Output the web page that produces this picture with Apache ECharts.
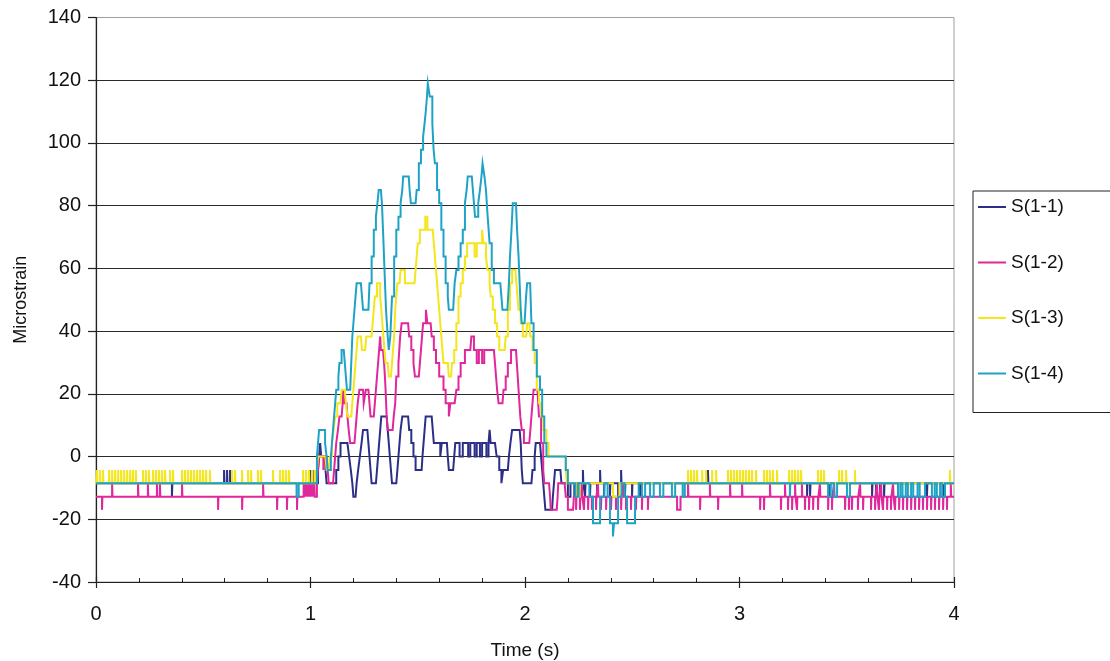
<!DOCTYPE html>
<html>
<head>
<meta charset="utf-8">
<script src="https://cdn.jsdelivr.net/npm/echarts@6/dist/echarts.min.js"></script>
<style>
  html, body { margin: 0; padding: 0; background: #ffffff; }
  #chart { width: 1110px; height: 661px; }
</style>
</head>
<body>
<div id="chart"></div>
<script>
// Axis ticks
const xTicks = [0, 1, 2, 3, 4];
const yTicks = [-40, -20, 0, 20, 40, 60, 80, 100, 120, 140];
const seriesNames = ['S(1-1)', 'S(1-2)', 'S(1-3)', 'S(1-4)'];

// Each gauge: resting level, short excursions before the pass,
// the trace during the pass, and short excursions after it.
// Excursion entries are [t, value] (one sample) or [t0, t1, value].

// S(1-1)
const s11Base = -8.5;
const s11Pre = [[0.354,-12.8],[0.597,-4.3],[0.611,-4.3],[0.625,-4.3],[1.000,-4.3],[1.010,-4.3]];
const s11Event = [[1.035,-8.5],[1.035,-4.3],[1.040,-4.3],[1.040,0],[1.045,0],[1.045,4.3],[1.050,4.3],[1.050,0],[1.070,0],[1.070,-4.3],[1.075,-4.3],[1.075,-8.5],[1.105,-8.5],[1.120,-4.3],[1.130,0],[1.140,4.3],[1.172,4.3],[1.180,0],[1.188,-4.3],[1.195,-8.5],[1.200,-12.8],[1.210,-12.8],[1.215,-8.5],[1.222,-4.3],[1.230,0],[1.238,4.3],[1.245,8.5],[1.265,8.5],[1.270,4.3],[1.275,0],[1.280,-4.3],[1.285,-8.5],[1.305,-8.5],[1.310,-4.3],[1.315,0],[1.320,4.3],[1.325,8.5],[1.330,12.8],[1.355,12.8],[1.360,8.5],[1.365,4.3],[1.370,0],[1.375,-4.3],[1.380,-8.5],[1.400,-8.5],[1.405,-4.3],[1.410,0],[1.415,4.3],[1.420,8.5],[1.428,12.8],[1.455,12.8],[1.460,8.5],[1.470,4.3],[1.480,0],[1.490,-4.3],[1.518,-4.3],[1.522,0],[1.527,4.3],[1.532,8.5],[1.537,12.8],[1.565,12.8],[1.570,8.5],[1.575,4.3],[1.605,4.3],[1.605,0],[1.612,0],[1.612,4.3],[1.636,4.3],[1.640,0],[1.645,-4.3],[1.665,-4.3],[1.670,0],[1.675,4.3],[1.695,4.3],[1.695,0],[1.710,0],[1.710,4.3],[1.735,4.3],[1.735,0],[1.745,0],[1.745,4.3],[1.765,4.3],[1.765,0],[1.775,0],[1.775,4.3],[1.790,4.3],[1.790,0],[1.800,0],[1.800,4.3],[1.820,4.3],[1.820,0],[1.830,0],[1.830,4.3],[1.835,4.3],[1.835,8.5],[1.840,8.5],[1.840,4.3],[1.860,4.3],[1.868,0],[1.880,-4.3],[1.890,-4.3],[1.890,-8.5],[1.898,-8.5],[1.898,-4.3],[1.920,-4.3],[1.925,0],[1.932,4.3],[1.940,8.5],[1.975,8.5],[1.980,4.3],[1.985,-4.3],[1.990,-8.5],[2.030,-8.5],[2.035,-4.3],[2.045,0],[2.050,4.3],[2.070,4.3],[2.075,0],[2.080,-4.3],[2.085,-8.5],[2.090,-12.8],[2.095,-17],[2.126,-17],[2.130,-12.8],[2.135,-8.5],[2.140,-4.3],[2.165,-4.3],[2.170,-8.5]];
const s11Post = [[2.200,2.212,-12.8],[2.230,-12.8],[2.247,-12.8],[2.270,-4.3],[2.280,-12.8],[2.303,-12.8],[2.336,-12.8],[2.350,-4.3],[2.368,-12.8],[2.396,-12.8],[2.434,-12.8],[2.448,-4.3],[2.466,-12.8],[2.499,-12.8],[2.536,-12.8],[2.853,-4.3],[3.315,-12.8],[3.329,-12.8],[3.422,-12.8],[3.618,-12.8],[3.636,-12.8],[3.655,-12.8],[3.674,-12.8],[3.874,-12.8],[3.949,-12.8]];

// S(1-2)
const s12Base = -12.8;
const s12Pre = [[0.028,-17],[0.075,-8.5],[0.196,-8.5],[0.242,-8.5],[0.284,-8.5],[0.298,-8.5],[0.401,-8.5],[0.569,-17],[0.681,-17],[0.779,-8.5],[0.844,-17],[0.890,-17],[0.937,-17],[0.968,-8.5],[0.978,-8.5],[0.988,-8.5],[0.998,-8.5],[1.008,-8.5],[1.018,-8.5]];
const s12Event = [[1.030,-12.8],[1.030,-8.5],[1.035,-8.5],[1.035,-4.3],[1.040,-4.3],[1.040,0],[1.060,0],[1.060,-4.3],[1.065,-4.3],[1.065,0],[1.075,0],[1.080,-4.3],[1.085,-8.5],[1.105,-8.5],[1.110,-4.3],[1.115,0],[1.120,4.3],[1.128,8.5],[1.135,12.8],[1.145,12.8],[1.150,17],[1.152,21.3],[1.156,21.3],[1.158,17],[1.168,17],[1.172,12.8],[1.178,8.5],[1.185,4.3],[1.205,4.3],[1.210,8.5],[1.215,12.8],[1.220,17],[1.228,21.3],[1.245,21.3],[1.248,17],[1.255,17],[1.258,21.3],[1.270,21.3],[1.275,17],[1.280,12.8],[1.295,12.8],[1.300,17],[1.305,21.3],[1.310,25.5],[1.315,29.8],[1.320,34],[1.325,34],[1.325,38.3],[1.328,38.3],[1.328,34],[1.338,34],[1.343,29.8],[1.347,25.5],[1.350,21.3],[1.355,12.8],[1.360,8.5],[1.383,8.5],[1.388,12.8],[1.395,17],[1.400,25.5],[1.410,29.8],[1.418,38.3],[1.425,42.5],[1.455,42.5],[1.460,38.3],[1.470,34],[1.480,29.8],[1.487,25.5],[1.505,25.5],[1.510,29.8],[1.515,34],[1.520,38.3],[1.525,42.5],[1.538,42.5],[1.538,46.8],[1.545,46.8],[1.545,42.5],[1.560,42.5],[1.565,38.3],[1.575,34],[1.585,29.8],[1.600,25.5],[1.620,21.3],[1.630,17],[1.645,17],[1.645,12.8],[1.652,12.8],[1.652,17],[1.672,17],[1.680,21.3],[1.690,25.5],[1.700,29.8],[1.710,29.8],[1.720,34],[1.745,34],[1.750,38.3],[1.757,38.3],[1.762,34],[1.775,34],[1.775,29.8],[1.785,29.8],[1.785,34],[1.800,34],[1.800,29.8],[1.810,29.8],[1.810,34],[1.855,34],[1.860,29.8],[1.865,25.5],[1.870,21.3],[1.877,17],[1.895,17],[1.900,21.3],[1.910,25.5],[1.920,29.8],[1.935,34],[1.958,34],[1.962,29.8],[1.970,21.3],[1.978,12.8],[1.985,8.5],[1.995,4.3],[2.020,4.3],[2.025,8.5],[2.030,12.8],[2.035,17],[2.040,21.3],[2.058,21.3],[2.065,12.8],[2.075,4.3],[2.085,-4.3],[2.090,-8.5],[2.112,-8.5],[2.117,-12.8],[2.120,-17],[2.148,-17],[2.152,-12.8],[2.155,-8.5],[2.185,-8.5],[2.190,-12.8],[2.200,-17],[2.224,-17],[2.228,-12.8]];
const s12Post = [[2.238,-17],[2.256,-17],[2.265,-8.5],[2.275,-17],[2.294,-17],[2.312,-17],[2.331,-17],[2.340,-8.5],[2.354,-17],[2.378,-17],[2.401,-17],[2.424,-17],[2.448,-17],[2.458,-8.5],[2.471,-17],[2.494,-17],[2.517,-17],[2.545,-17],[2.573,-17],[2.709,2.725,-17],[2.760,-8.5],[2.816,-17],[2.862,-8.5],[2.900,-17],[2.956,-8.5],[3.012,-8.5],[3.096,-17],[3.114,-17],[3.142,-8.5],[3.193,-17],[3.212,-8.5],[3.226,-17],[3.245,-17],[3.259,-8.5],[3.268,-17],[3.291,-8.5],[3.305,-17],[3.324,-17],[3.343,-17],[3.366,-17],[3.375,-8.5],[3.413,-17],[3.431,-17],[3.441,-8.5],[3.492,-17],[3.510,-17],[3.524,-17],[3.552,-17],[3.562,-8.5],[3.576,-17],[3.613,-17],[3.632,-17],[3.641,-8.5],[3.650,-17],[3.660,-8.5],[3.669,-17],[3.688,-17],[3.706,-17],[3.716,-8.5],[3.725,-17],[3.744,-17],[3.762,-17],[3.781,-17],[3.800,-17],[3.818,-17],[3.837,-17],[3.855,-17],[3.874,-17],[3.893,-17],[3.911,-17],[3.930,-17],[3.949,-17],[3.967,-17],[3.985,-8.5]];

// S(1-3)
const s13Base = -8.5;
const s13Pre = [[0.005,-4.3],[0.019,-4.3],[0.033,-4.3],[0.061,-4.3],[0.075,-4.3],[0.089,-4.3],[0.103,-4.3],[0.117,-4.3],[0.131,-4.3],[0.145,-4.3],[0.159,-4.3],[0.172,-4.3],[0.186,-4.3],[0.219,-4.3],[0.233,-4.3],[0.247,-4.3],[0.266,-4.3],[0.280,-4.3],[0.294,-4.3],[0.308,-4.3],[0.322,-4.3],[0.345,-4.3],[0.359,-4.3],[0.401,-4.3],[0.415,-4.3],[0.429,-4.3],[0.443,-4.3],[0.457,-4.3],[0.471,-4.3],[0.485,-4.3],[0.499,-4.3],[0.513,-4.3],[0.531,-4.3],[0.634,-4.3],[0.648,-4.3],[0.681,-4.3],[0.709,-4.3],[0.723,-4.3],[0.755,-4.3],[0.769,-4.3],[0.825,-4.3],[0.858,-4.3],[0.872,-4.3],[0.886,-4.3],[0.900,-4.3],[0.965,-4.3],[0.979,-4.3],[0.993,-4.3],[1.007,-4.3],[1.020,-4.3]];
const s13Event = [[1.030,-8.5],[1.030,-4.3],[1.035,-4.3],[1.035,0],[1.070,0],[1.075,-4.3],[1.085,-4.3],[1.090,0],[1.100,4.3],[1.108,8.5],[1.115,12.8],[1.125,17],[1.140,17],[1.145,21.3],[1.160,21.3],[1.165,17],[1.172,12.8],[1.190,12.8],[1.195,17],[1.200,21.3],[1.205,25.5],[1.210,29.8],[1.215,34],[1.220,38.3],[1.235,38.3],[1.240,34],[1.255,34],[1.260,38.3],[1.285,38.3],[1.290,42.5],[1.295,46.8],[1.300,51],[1.310,55.3],[1.318,55.3],[1.325,51],[1.330,46.8],[1.335,42.5],[1.340,38.3],[1.345,34],[1.350,29.8],[1.360,29.8],[1.365,25.5],[1.375,25.5],[1.380,29.8],[1.385,34],[1.390,38.3],[1.395,46.8],[1.400,51],[1.405,55.3],[1.415,55.3],[1.420,59.5],[1.440,59.5],[1.440,55.3],[1.485,55.3],[1.490,59.5],[1.495,63.8],[1.500,68],[1.510,72.3],[1.535,72.3],[1.535,76.5],[1.545,76.5],[1.545,72.3],[1.570,72.3],[1.575,68],[1.580,63.8],[1.585,59.5],[1.590,55.3],[1.595,51],[1.600,46.8],[1.605,42.5],[1.610,38.3],[1.615,34],[1.620,29.8],[1.640,29.8],[1.645,25.5],[1.655,25.5],[1.660,29.8],[1.670,34],[1.680,42.5],[1.690,51],[1.700,55.3],[1.710,59.5],[1.720,63.8],[1.730,68],[1.765,68],[1.765,63.8],[1.775,63.8],[1.775,68],[1.800,68],[1.800,72.3],[1.806,72.3],[1.806,68],[1.812,68],[1.818,63.8],[1.825,59.5],[1.835,55.3],[1.840,51],[1.850,46.8],[1.860,42.5],[1.870,38.3],[1.880,34],[1.905,34],[1.910,38.3],[1.920,46.8],[1.930,55.3],[1.940,59.5],[1.955,59.5],[1.960,55.3],[1.965,51],[1.970,46.8],[1.980,42.5],[1.990,38.3],[2.005,38.3],[2.010,42.5],[2.020,42.5],[2.025,38.3],[2.035,34],[2.045,29.8],[2.055,21.3],[2.065,17],[2.075,12.8],[2.085,8.5],[2.100,4.3],[2.110,0],[2.190,0],[2.190,-4.3],[2.195,-4.3],[2.195,-8.5]];
const s13Post = [[2.240,2.255,-12.8],[2.410,2.440,-12.8],[2.760,-4.3],[2.774,-4.3],[2.788,-4.3],[2.802,-4.3],[2.826,-4.3],[2.844,-4.3],[2.872,-4.3],[2.891,-4.3],[2.946,-4.3],[2.960,-4.3],[2.974,-4.3],[2.988,-4.3],[3.002,-4.3],[3.016,-4.3],[3.030,-4.3],[3.044,-4.3],[3.058,-4.3],[3.077,-4.3],[3.114,-4.3],[3.128,-4.3],[3.142,-4.3],[3.156,-4.3],[3.175,-4.3],[3.231,-4.3],[3.245,-4.3],[3.259,-4.3],[3.273,-4.3],[3.287,-4.3],[3.366,-4.3],[3.380,-4.3],[3.394,-4.3],[3.464,-4.3],[3.478,-4.3],[3.497,-4.3],[3.538,-4.3],[3.981,-4.3]];

// S(1-4)
const s14Base = -8.5;
const s14Pre = [[0.935,0.945,-12.8]];
const s14Event = [[1.030,-8.5],[1.030,0],[1.035,0],[1.035,4.3],[1.040,4.3],[1.040,8.5],[1.068,8.5],[1.068,4.3],[1.075,4.3],[1.075,0],[1.080,0],[1.080,-4.3],[1.095,-4.3],[1.095,0],[1.100,0],[1.100,4.3],[1.105,8.5],[1.110,12.8],[1.115,17],[1.120,21.3],[1.125,21.3],[1.130,25.5],[1.135,29.8],[1.140,29.8],[1.145,34],[1.155,34],[1.160,29.8],[1.165,25.5],[1.170,21.3],[1.185,21.3],[1.190,29.8],[1.195,38.3],[1.200,42.5],[1.205,46.8],[1.210,51],[1.215,55.3],[1.235,55.3],[1.240,51],[1.245,46.8],[1.270,46.8],[1.275,55.3],[1.285,63.8],[1.295,72.3],[1.305,76.5],[1.312,80.8],[1.318,85],[1.328,85],[1.333,80.8],[1.338,72.3],[1.345,59.5],[1.352,46.8],[1.360,38.3],[1.365,34],[1.372,38.3],[1.380,51],[1.390,63.8],[1.400,72.3],[1.410,76.5],[1.420,80.8],[1.428,85],[1.432,89.3],[1.458,89.3],[1.462,85],[1.468,80.8],[1.490,80.8],[1.495,85],[1.505,93.5],[1.515,97.8],[1.525,102],[1.532,106.3],[1.538,110.5],[1.543,114.8],[1.547,119],[1.552,119],[1.556,114.8],[1.562,114.8],[1.568,106.3],[1.574,97.8],[1.580,93.5],[1.590,85],[1.600,80.8],[1.610,72.3],[1.620,63.8],[1.630,55.3],[1.640,51],[1.645,46.8],[1.665,46.8],[1.672,55.3],[1.680,59.5],[1.690,63.8],[1.700,68],[1.710,72.3],[1.720,80.8],[1.728,85],[1.733,89.3],[1.752,89.3],[1.757,85],[1.762,80.8],[1.767,76.5],[1.776,76.5],[1.782,80.8],[1.790,85],[1.797,89.3],[1.802,93.5],[1.807,93.5],[1.811,89.3],[1.818,85],[1.826,76.5],[1.835,68],[1.845,59.5],[1.855,55.3],[1.885,55.3],[1.890,51],[1.895,46.8],[1.918,46.8],[1.925,55.3],[1.930,63.8],[1.937,72.3],[1.943,80.8],[1.958,80.8],[1.963,72.3],[1.970,63.8],[1.975,55.3],[1.980,46.8],[1.985,42.5],[1.998,42.5],[2.005,51],[2.010,55.3],[2.024,55.3],[2.030,42.5],[2.040,34],[2.055,25.5],[2.070,21.3],[2.080,12.8],[2.090,4.3],[2.100,0],[2.190,0],[2.190,-4.3],[2.200,-4.3],[2.200,-8.5],[2.235,-8.5],[2.235,-12.8],[2.250,-12.8],[2.250,-8.5],[2.300,-8.5],[2.300,-12.8],[2.317,-12.8],[2.317,-21.3],[2.350,-21.3],[2.350,-12.8],[2.370,-12.8],[2.370,-8.5],[2.385,-8.5],[2.385,-12.8],[2.396,-12.8],[2.396,-21.3],[2.410,-21.3],[2.410,-25.5],[2.415,-25.5],[2.415,-21.3],[2.434,-21.3],[2.434,-12.8],[2.450,-12.8],[2.450,-8.5],[2.465,-8.5],[2.465,-12.8],[2.476,-12.8],[2.476,-21.3],[2.513,-21.3],[2.513,-12.8],[2.530,-12.8],[2.530,-8.5]];
const s14Post = [[2.545,2.560,-12.8],[2.583,2.600,-12.8],[2.629,2.645,-12.8],[2.685,2.700,-12.8],[2.735,2.745,-12.8],[3.235,-12.8],[3.413,3.425,-12.8],[3.440,3.455,-12.8],[3.501,3.515,-12.8],[3.739,3.750,-12.8],[3.760,3.775,-12.8],[3.785,3.800,-12.8],[3.810,3.830,-12.8],[3.840,3.865,-12.8],[3.897,3.910,-12.8],[3.920,3.935,-12.8],[3.945,3.958,-12.8]];

const colors = ['#2c2f86', '#e0279b', '#f3e61c', '#1ea3c6'];
const SAMPLE = 0.002; // width of a one-sample excursion, seconds

// Expand resting level + excursions + trace into one polyline
function buildTrace(base, pre, event, post) {
  const pts = [[xTicks[0], base]];
  const addExcursions = list => list.forEach(e => {
    const t0 = e[0];
    const t1 = e.length === 3 ? e[1] : e[0] + SAMPLE;
    const v = e[e.length - 1];
    pts.push([t0, base], [t0, v], [t1, v], [t1, base]);
  });
  addExcursions(pre);
  event.forEach(p => pts.push(p));
  addExcursions(post);
  pts.push([xTicks[xTicks.length - 1], base]);
  return pts;
}

const traces = [
  buildTrace(s11Base, s11Pre, s11Event, s11Post),
  buildTrace(s12Base, s12Pre, s12Event, s12Post),
  buildTrace(s13Base, s13Pre, s13Event, s13Post),
  buildTrace(s14Base, s14Pre, s14Event, s14Post)
];

const FONT = "'Liberation Sans', Arial, Helvetica, sans-serif";
const chart = echarts.init(document.getElementById('chart'), null, { renderer: 'canvas' });

const gridLineColors = yTicks.map((v, i) => i === yTicks.length - 1 ? '#a0a0a0' : '#2a2a2a');

chart.setOption({
  backgroundColor: '#ffffff',
  animation: false,
  color: colors,
  textStyle: { fontFamily: FONT, color: '#111' },
  grid: {
    left: 96, right: 156, top: 17.5, bottom: 79,
    outerBoundsMode: 'none',
    containLabel: false,
    show: true, borderColor: '#a0a0a0', borderWidth: 1, backgroundColor: '#ffffff'
  },
  legend: {
    orient: 'vertical',
    left: 973, top: 191,
    padding: [6, 60, 29, 5],
    itemGap: 35.5,
    itemWidth: 28, itemHeight: 2,
    icon: 'rect',
    borderColor: '#222', borderWidth: 1,
    backgroundColor: '#ffffff',
    textStyle: { fontFamily: FONT, fontSize: 19, color: '#111', lineHeight: 20 },
    data: seriesNames
  },
  xAxis: [{
    type: 'value',
    min: xTicks[0], max: xTicks[xTicks.length - 1], interval: 1,
    position: 'bottom',
    name: 'Time (s)', nameLocation: 'middle', nameGap: 59,
    nameTextStyle: { fontFamily: FONT, fontSize: 19, color: '#111' },
    axisLine: { show: true, onZero: false, lineStyle: { color: '#222', width: 1.2 } },
    axisTick: { show: true, inside: true, length: 5, lineStyle: { color: '#222', width: 1.2 } },
    minorTick: { show: true, splitNumber: 5, length: 4, lineStyle: { color: '#222', width: 1 } },
    axisLabel: { fontFamily: FONT, fontSize: 20, color: '#111', margin: 22 },
    splitLine: { show: false }
  }, {
    type: 'value',
    min: xTicks[0], max: xTicks[xTicks.length - 1], interval: 1,
    position: 'bottom',
    axisLine: { show: false, onZero: false },
    axisTick: { show: true, inside: false, length: 6, lineStyle: { color: '#222', width: 1.2 } },
    axisLabel: { show: false },
    splitLine: { show: false }
  }],
  yAxis: {
    type: 'value',
    min: yTicks[0], max: yTicks[yTicks.length - 1], interval: 20,
    name: 'Microstrain', nameLocation: 'middle', nameGap: 66,
    nameTextStyle: { fontFamily: FONT, fontSize: 18, color: '#111' },
    axisLine: { show: true, lineStyle: { color: '#222', width: 1.2 } },
    axisTick: { show: true, inside: false, length: 8, lineStyle: { color: '#222', width: 1.2 } },
    axisLabel: { fontFamily: FONT, fontSize: 20, color: '#111', margin: 15 },
    splitLine: { show: true, lineStyle: { color: gridLineColors, width: 1.2 } }
  },
  series: traces.map((data, i) => ({
    name: seriesNames[i],
    type: 'line',
    data: data,
    xAxisIndex: 0,
    step: 'end',
    symbol: 'none',
    showSymbol: false,
    sampling: null,
    clip: true,
    lineStyle: { width: 2, color: colors[i], join: 'miter' },
    itemStyle: { color: colors[i] },
    emphasis: { disabled: true }
  }))
});
</script>
</body>
</html>
